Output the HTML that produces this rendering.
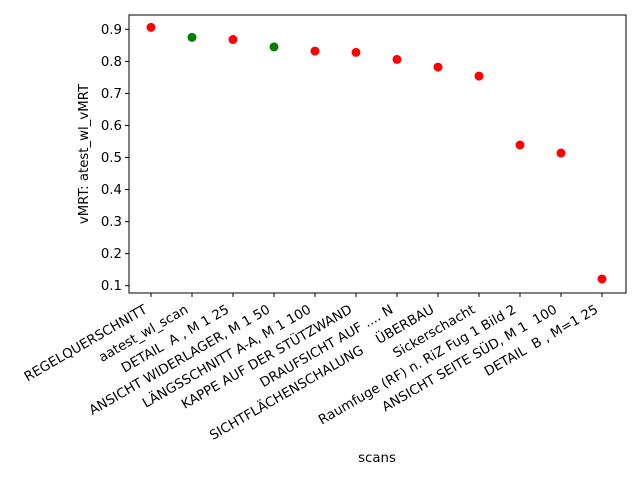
<!DOCTYPE html>
<html><head><meta charset="utf-8"><style>
body{margin:0;background:#fff}
svg{font-family:"DejaVu Sans","Liberation Sans",sans-serif}
text{white-space:pre}
</style></head><body>
<svg id="chart" width="640" height="480">
<rect width="640" height="480" fill="#fff"/>
<g id="plot"></g>
</svg>
<script>
const categories=["REGELQUERSCHNITT","aatest_wl_scan","DETAIL  A , M 1 25","ANSICHT WIDERLAGER, M 1 50","LÄNGSSCHNITT A-A, M 1 100","KAPPE AUF DER STÜTZWAND","DRAUFSICHT AUF .... N","SICHTFLÄCHENSCHALUNG    ÜBERBAU","Sickerschacht","Raumfuge (RF) n. RiZ Fug 1 Bild 2","ANSICHT SEITE SÜD, M 1  100","DETAIL  B , M=1 25"];
const values=[0.906,0.875,0.868,0.845,0.832,0.828,0.806,0.782,0.754,0.539,0.514,0.121];
const colors=["red","green","red","green","red","red","red","red","red","red","red","red"];
const yTicks=[0.1,0.2,0.3,0.4,0.5,0.6,0.7,0.8,0.9];
const L=129,R=626,T=15,B=293;
const x=i=>151+i*(602-151)/(categories.length-1);
const y=v=>29.3+(0.9-v)*(285.7-29.3)/0.8;
const g=document.getElementById('plot');
const NS="http://www.w3.org/2000/svg";
function mk(t,a,p){const e=document.createElementNS(NS,t);for(const k in a)e.setAttribute(k,a[k]);(p||g).appendChild(e);return e;}
yTicks.forEach(v=>{
 const tk=mk('line',{x1:L-4,x2:L,y1:y(v),y2:y(v),stroke:'#000'});
 
 
 const t=mk('text',{x:L-7,y:y(v)+4.5,'text-anchor':'end','font-size':13.3});
 t.textContent=v.toFixed(1);
 
 
});
categories.forEach((c,i)=>{
 const tk=mk('line',{x1:x(i),x2:x(i),y1:B,y2:B+4,stroke:'#000'});
 
 
 const t=mk('text',{x:0,y:0,'text-anchor':'end','font-size':13.3,transform:`translate(${x(i)-3},${B+19}) rotate(-30)`});
 t.textContent=c;
 
 
 const d=mk('circle',{cx:x(i),cy:y(values[i]),r:4.5,fill:colors[i]});
 
 
});
const fr=mk('rect',{x:L,y:T,width:R-L,height:B-T,fill:'none',stroke:'#000','stroke-width':1});


const xl=mk('text',{x:377,y:462,'text-anchor':'middle','font-size':13.3});
xl.textContent='scans';


const yl=mk('text',{x:0,y:0,'text-anchor':'middle','font-size':13.3,transform:'translate(88,154) rotate(-90)'});
yl.textContent='vMRT: atest_wl_vMRT';


</script>
</body></html>
